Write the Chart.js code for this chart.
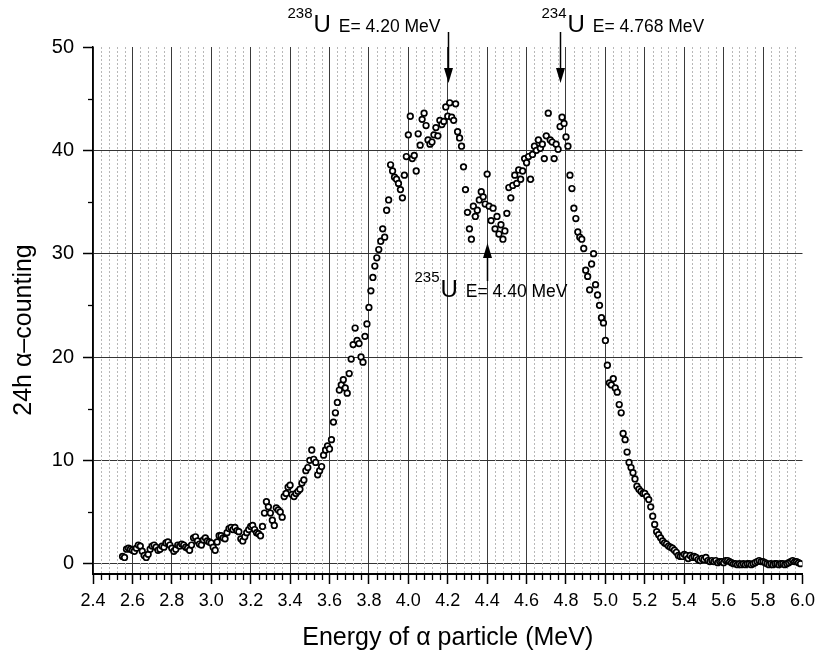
<!DOCTYPE html>
<html>
<head>
<meta charset="utf-8">
<script src="https://cdn.jsdelivr.net/npm/chart.js@4"></script>
<style>
  html, body { margin: 0; padding: 0; background: #fff; }
</style>
</head>
<body>
<canvas id="spectrum" width="821" height="657"></canvas>
<script>
/* ========= DATA ========= */
// alpha energy (MeV) of each channel
const energy = [
  2.55, 2.56, 2.57, 2.58, 2.59,
  2.60, 2.61, 2.62, 2.63, 2.64, 2.65, 2.66, 2.67, 2.68, 2.69,
  2.70, 2.71, 2.72, 2.73, 2.74, 2.75, 2.76, 2.77, 2.78, 2.79,
  2.80, 2.81, 2.82, 2.83, 2.84, 2.85, 2.86, 2.87, 2.88, 2.89,
  2.90, 2.91, 2.92, 2.93, 2.94, 2.95, 2.96, 2.97, 2.98, 2.99,
  3.00, 3.01, 3.02, 3.03, 3.04, 3.05, 3.06, 3.07, 3.08, 3.09,
  3.10, 3.11, 3.12, 3.13, 3.14, 3.15, 3.16, 3.17, 3.18, 3.19,
  3.20, 3.21, 3.22, 3.23, 3.24, 3.25, 3.26, 3.27, 3.28, 3.29,
  3.30, 3.31, 3.32, 3.33, 3.34, 3.35, 3.36, 3.37, 3.38, 3.39,
  3.40, 3.41, 3.42, 3.43, 3.44, 3.45, 3.46, 3.47, 3.48, 3.49,
  3.50, 3.51, 3.52, 3.53, 3.54, 3.55, 3.56, 3.57, 3.58, 3.59,
  3.60, 3.61, 3.62, 3.63, 3.64, 3.65, 3.66, 3.67, 3.68, 3.69,
  3.70, 3.71, 3.72, 3.73, 3.74, 3.75, 3.76, 3.77, 3.78, 3.79,
  3.80, 3.81, 3.82, 3.83, 3.84, 3.85, 3.86, 3.87, 3.88, 3.89,
  3.90, 3.91, 3.92, 3.93, 3.94, 3.95, 3.96, 3.97, 3.98, 3.99,
  4.00, 4.01, 4.02, 4.03, 4.04, 4.05, 4.06, 4.07, 4.08, 4.09,
  4.10, 4.11, 4.12, 4.13, 4.14, 4.15, 4.16, 4.17, 4.18, 4.19,
  4.20, 4.21, 4.22, 4.23, 4.24, 4.25, 4.26, 4.27, 4.28, 4.29,
  4.30, 4.31, 4.32, 4.33, 4.34, 4.35, 4.36, 4.37, 4.38, 4.39,
  4.40, 4.41, 4.42, 4.43, 4.44, 4.45, 4.46, 4.47, 4.48, 4.49,
  4.50, 4.51, 4.52, 4.53, 4.54, 4.55, 4.56, 4.57, 4.58, 4.59,
  4.60, 4.61, 4.62, 4.63, 4.64, 4.65, 4.66, 4.67, 4.68, 4.69,
  4.70, 4.71, 4.72, 4.73, 4.74, 4.75, 4.76, 4.77, 4.78, 4.79,
  4.80, 4.81, 4.82, 4.83, 4.84, 4.85, 4.86, 4.87, 4.88, 4.89,
  4.90, 4.91, 4.92, 4.93, 4.94, 4.95, 4.96, 4.97, 4.98, 4.99,
  5.00, 5.01, 5.02, 5.03, 5.04, 5.05, 5.06, 5.07, 5.08, 5.09,
  5.10, 5.11, 5.12, 5.13, 5.14, 5.15, 5.16, 5.17, 5.18, 5.19,
  5.20, 5.21, 5.22, 5.23, 5.24, 5.25, 5.26, 5.27, 5.28, 5.29,
  5.30, 5.31, 5.32, 5.33, 5.34, 5.35, 5.36, 5.37, 5.38, 5.39,
  5.40, 5.41, 5.42, 5.43, 5.44, 5.45, 5.46, 5.47, 5.48, 5.49,
  5.50, 5.51, 5.52, 5.53, 5.54, 5.55, 5.56, 5.57, 5.58, 5.59,
  5.60, 5.61, 5.62, 5.63, 5.64, 5.65, 5.66, 5.67, 5.68, 5.69,
  5.70, 5.71, 5.72, 5.73, 5.74, 5.75, 5.76, 5.77, 5.78, 5.79,
  5.80, 5.81, 5.82, 5.83, 5.84, 5.85, 5.86, 5.87, 5.88, 5.89,
  5.90, 5.91, 5.92, 5.93, 5.94, 5.95, 5.96, 5.97, 5.98, 5.99
];

// 24h alpha counts, same order as energy
const counts = [
  0.7, 0.6, 1.4, 1.5, 1.4,
  1.3, 1.2, 1.5, 1.8, 1.7, 1.2, 0.8, 0.6, 0.9, 1.4,
  1.7, 1.8, 1.6, 1.3, 1.4, 1.7, 1.6, 2.0, 2.1, 1.8,
  1.5, 1.2, 1.4, 1.8, 1.7, 1.9, 1.8, 1.6, 1.5, 1.3,
  1.8, 2.5, 2.6, 2.2, 1.9, 1.8, 2.3, 2.5, 2.2, 2.1,
  2.0, 1.6, 1.3, 2.1, 2.7, 2.7, 2.5, 2.4, 3.0, 3.4,
  3.5, 3.3, 3.5, 3.2, 3.1, 2.4, 2.2, 2.6, 3.0, 3.3,
  3.6, 3.7, 3.3, 3.0, 2.9, 2.7, 3.6, 4.9, 6.0, 5.5,
  4.9, 4.2, 3.7, 5.4, 5.2, 5.0, 4.5, 6.5, 6.8, 7.4,
  7.6, 6.7, 6.5, 6.8, 7.0, 7.2, 7.8, 8.1, 9.0, 9.3,
  10.0, 11.0, 10.1, 9.8, 8.6, 9.0, 9.4, 10.5, 11.0, 11.4,
  11.1, 12.0, 13.7, 14.6, 15.6, 16.8, 17.3, 17.8, 17.0, 16.5,
  18.4, 19.8, 21.2, 22.8, 21.6, 21.3, 20.0, 19.5, 22.0, 23.2,
  24.8, 26.4, 27.7, 28.8, 29.6, 30.4, 31.2, 32.4, 31.6, 34.2,
  35.2, 38.6, 38.0, 37.4, 37.2, 36.8, 36.2, 35.4, 37.6, 39.4,
  41.5, 43.3, 39.2, 39.5, 38.0, 41.6, 40.5, 43.0, 43.6, 42.4,
  41.0, 40.6, 40.8, 41.5, 42.2, 41.4, 42.9, 42.5, 42.8, 44.2,
  43.3, 44.6, 43.2, 42.9, 44.5, 41.8, 41.2, 40.4, 38.4, 36.2,
  34.0, 32.4, 31.4, 34.6, 33.6, 34.2, 35.2, 36.0, 35.5, 34.8,
  37.7, 34.6, 33.2, 34.4, 32.4, 33.6, 31.9, 32.8, 31.4, 32.2,
  33.9, 36.4, 35.4, 36.6, 37.6, 36.8, 38.1, 37.2, 38.0, 39.2,
  38.8, 39.4, 37.2, 39.6, 40.4, 40.0, 41.0, 40.2, 40.6, 39.2,
  41.4, 43.6, 41.0, 40.8, 39.2, 40.6, 40.1, 42.3, 43.2, 42.6,
  41.3, 40.4, 37.6, 36.3, 34.4, 33.4, 32.1, 31.6, 31.4, 30.5,
  28.4, 27.8, 26.5, 29.0, 30.0, 27.0, 26.0, 25.0, 23.8, 23.3,
  21.6, 19.2, 17.5, 17.3, 17.9, 17.0, 16.6, 15.4, 14.6, 12.6,
  12.0, 10.8, 9.8, 9.3, 8.8, 8.2, 7.5, 7.2, 7.0, 6.8,
  6.8, 6.5, 6.2, 5.5, 4.6, 3.8, 3.1, 2.8, 2.5, 2.2,
  2.0, 1.9, 1.7, 1.6, 1.5, 1.3, 1.1, 0.8, 0.7, 0.7,
  0.9, 0.8, 0.5, 0.8, 0.6, 0.7, 0.6, 0.4, 0.3, 0.5,
  0.4, 0.6, 0.3, 0.2, 0.3, 0.2, 0.3, 0.1, 0.2, 0.2,
  0.1, 0.3, 0.3, 0.2, 0.1, 0.0, 0.0, -0.1, 0.0, -0.1,
  0.0, -0.1, 0.0, 0.0, -0.1, 0.0, 0.1, 0.2, 0.3, 0.2,
  0.2, 0.1, 0.0, -0.1, 0.0, -0.1, 0.0, 0.0, -0.1, 0.0,
  0.0, -0.1, 0.0, 0.1, 0.2, 0.3, 0.2, 0.2, 0.1, 0.0
];

const xTicks      = [2.4, 2.6, 2.8, 3.0, 3.2, 3.4, 3.6, 3.8, 4.0, 4.2, 4.4, 4.6, 4.8, 5.0, 5.2, 5.4, 5.6, 5.8, 6.0];
const xTickLabels = ["2.4", "2.6", "2.8", "3.0", "3.2", "3.4", "3.6", "3.8", "4.0", "4.2", "4.4", "4.6", "4.8", "5.0", "5.2", "5.4", "5.6", "5.8", "6.0"];
const yTicks      = [0, 10, 20, 30, 40, 50];
const yTickLabels = ["0", "10", "20", "30", "40", "50"];

// isotope peak markers
const isotopeMass   = ["238", "234", "235"];
const isotopeEnergy = [4.20, 4.768, 4.40];
const isotopeText   = ["E= 4.20 MeV", "E= 4.768 MeV", "E= 4.40 MeV"];

const xTitle = "Energy of \u03b1 particle (MeV)";
const yTitle = "24h \u03b1\u2013counting";

/* ========= STYLE ========= */
const FONT = "'Liberation Sans', Arial, sans-serif";

/* ========= PLUGINS ========= */
// dotted minor grid + minor tick marks
const minorGrid = {
  id: "minorGrid",
  beforeDatasetsDraw(chart) {
    const { ctx, chartArea: a, scales: { x } } = chart;
    ctx.save();
    ctx.strokeStyle = "#b8b8b8";
    ctx.lineWidth = 1;
    ctx.setLineDash([2, 2]);
    for (let k = 1; k < 90; k++) {
      if (k % 5 === 0) continue;
      const px = Math.round(x.getPixelForValue(2.4 + k * 0.04)) + 0.5;
      ctx.beginPath();
      ctx.moveTo(px, a.top);
      ctx.lineTo(px, a.bottom);
      ctx.stroke();
    }
    ctx.restore();
  },
  afterDraw(chart) {
    const { ctx, chartArea: a, scales: { x, y } } = chart;
    ctx.save();
    ctx.strokeStyle = "#000";
    ctx.lineWidth = 1.3;
    for (let k = 1; k < 90; k++) {
      if (k % 5 === 0) continue;
      const px = Math.round(x.getPixelForValue(2.4 + k * 0.04)) + 0.5;
      ctx.beginPath();
      ctx.moveTo(px, a.bottom);
      ctx.lineTo(px, a.bottom + 6);
      ctx.stroke();
    }
    for (let v = 5; v < 50; v += 10) {
      const py = Math.round(y.getPixelForValue(v)) + 0.5;
      ctx.beginPath();
      ctx.moveTo(a.left - 5, py);
      ctx.lineTo(a.left, py);
      ctx.stroke();
    }
    ctx.restore();
  }
};

// rotated y title + isotope arrows and labels
const labels = {
  id: "labels",
  afterDraw(chart) {
    const { ctx, scales: { x } } = chart;
    ctx.save();
    ctx.fillStyle = "#000";

    ctx.save();
    ctx.translate(24, 330);
    ctx.rotate(-Math.PI / 2);
    ctx.font = "25px " + FONT;
    ctx.textAlign = "center";
    ctx.textBaseline = "middle";
    ctx.fillText(yTitle, 0, 0);
    ctx.restore();

    // dx: label start relative to arrow, sup/base: text baselines, tail/tip: arrow ends
    const place = [
      { dx: -161, sup: 18, base: 32, tail: 32, tip: 83 },
      { dx: -19, sup: 18, base: 32, tail: 32, tip: 83 },
      { dx: -73, sup: 282, base: 297, tail: 281, tip: 243 }
    ];
    ctx.textAlign = "left";
    ctx.textBaseline = "alphabetic";
    isotopeMass.forEach((m, i) => {
      const p = place[i];
      const ax = Math.round(x.getPixelForValue(isotopeEnergy[i])) + 0.5;
      let tx = ax + p.dx;
      ctx.font = "15px " + FONT;
      ctx.fillText(m, tx, p.sup);
      tx += ctx.measureText(m).width + 1;
      ctx.font = "24px " + FONT;
      ctx.fillText("U", tx, p.base);
      tx += ctx.measureText("U").width + 8;
      ctx.font = "17.5px " + FONT;
      ctx.fillText(isotopeText[i], tx, p.base);

      const dir = p.tip > p.tail ? 1 : -1;
      ctx.strokeStyle = "#000";
      ctx.lineWidth = 1.5;
      ctx.beginPath();
      ctx.moveTo(ax, p.tail);
      ctx.lineTo(ax, p.tip - dir * 10);
      ctx.stroke();
      ctx.beginPath();
      ctx.moveTo(ax, p.tip);
      ctx.lineTo(ax - 4.5, p.tip - dir * 15);
      ctx.lineTo(ax + 4.5, p.tip - dir * 15);
      ctx.closePath();
      ctx.fill();
    });
    ctx.restore();
  }
};

/* ========= CHART ========= */
const points = energy.map((e, i) => ({ x: e, y: counts[i] }));

new Chart(document.getElementById("spectrum"), {
  type: "scatter",
  data: {
    datasets: [{
      data: points,
      pointStyle: "circle",
      pointRadius: 2.8,
      pointBorderWidth: 1.7,
      pointBackgroundColor: "#fff",
      pointBorderColor: "#000"
    }]
  },
  options: {
    responsive: false,
    animation: false,
    events: [],
    layout: { padding: { top: 47, right: 15, left: 0, bottom: 0 } },
    plugins: { legend: { display: false }, tooltip: { enabled: false } },
    scales: {
      x: {
        type: "linear",
        min: 2.4,
        max: 6.0,
        afterBuildTicks: s => { s.ticks = xTicks.map(v => ({ value: v })); },
        afterFit: s => { s.height = 83; },
        ticks: {
          callback: (v, i) => xTickLabels[i],
          font: { family: FONT, size: 18 },
          color: "#000",
          padding: 6,
          maxRotation: 0,
          autoSkip: false
        },
        grid: {
          color: c => (c.tick && c.tick.value > 5.99 ? "rgba(0,0,0,0)" : "#3a3a3a"),
          lineWidth: 1,
          tickColor: "#000",
          tickWidth: 1.5,
          tickLength: 10
        },
        border: { color: "#000", width: 2 },
        title: {
          display: true,
          text: xTitle,
          font: { family: FONT, size: 25 },
          color: "#000",
          padding: { top: 0, bottom: 4 }
        }
      },
      y: {
        type: "linear",
        min: -1,
        max: 50,
        afterBuildTicks: s => { s.ticks = yTicks.map(v => ({ value: v })); },
        afterFit: s => { s.width = 93; },
        ticks: {
          callback: (v, i) => yTickLabels[i],
          font: { family: FONT, size: 20 },
          color: "#000",
          padding: 9
        },
        grid: {
          color: c => (c.tick && c.tick.value > 49 ? "rgba(0,0,0,0)" : "#333"),
          lineWidth: 1,
          tickColor: "#000",
          tickWidth: 1.5,
          tickLength: 10
        },
        border: { color: "#000", width: 1.5 }
      }
    }
  },
  plugins: [minorGrid, labels]
});
</script>
</body>
</html>
